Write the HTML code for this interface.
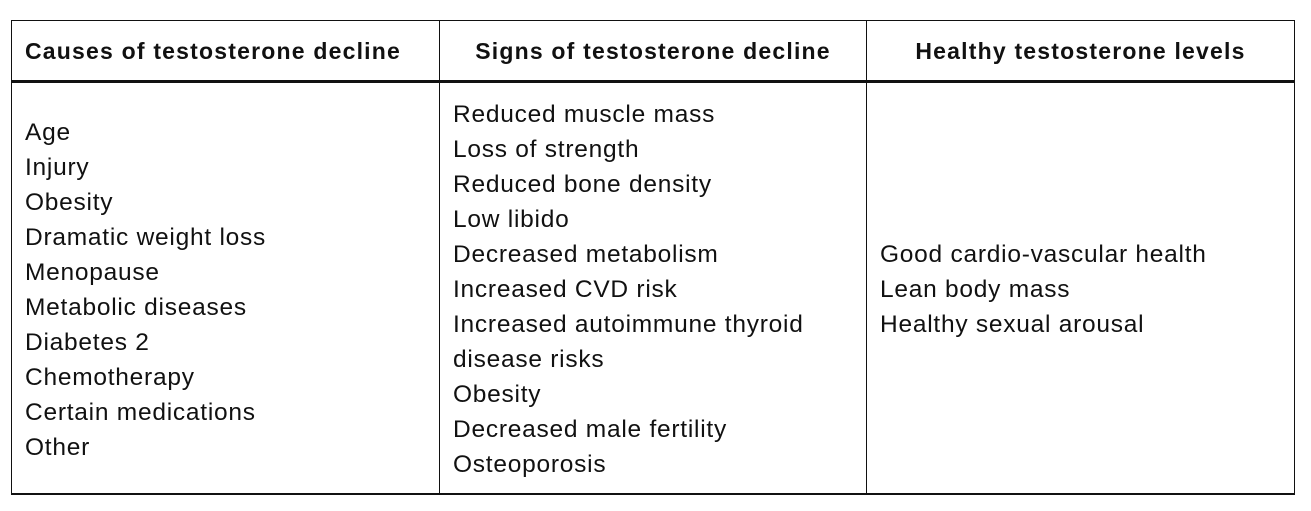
<!DOCTYPE html>
<html><head><meta charset="utf-8"><style>
html,body{margin:0;padding:0;background:#fff;width:1311px;height:511px;overflow:hidden}
body{position:relative;font-family:"Liberation Sans",sans-serif;color:#111}
.b{position:absolute;background:#111}
.h{position:absolute;top:37px;font-weight:bold;font-size:23px;line-height:28px;letter-spacing:1.2px;white-space:nowrap}
.c{position:absolute;font-size:24.5px;line-height:35px;letter-spacing:0.75px;white-space:nowrap}
</style></head><body>
<div class="b" style="left:11px;top:20px;width:1284px;height:1px"></div>
<div class="b" style="left:11px;top:493px;width:1284px;height:2px"></div>
<div class="b" style="left:11px;top:20px;width:1px;height:475px"></div>
<div class="b" style="left:1294px;top:20px;width:1px;height:475px"></div>
<div class="b" style="left:11px;top:80px;width:1284px;height:3px"></div>
<div class="b" style="left:439px;top:20px;width:1px;height:475px"></div>
<div class="b" style="left:866px;top:20px;width:1px;height:475px"></div>
<div class="h" style="left:25px">Causes of testosterone decline</div>
<div class="h" style="left:440px;width:426px;text-align:center">Signs of testosterone decline</div>
<div class="h" style="left:867px;width:427px;text-align:center">Healthy testosterone levels</div>
<div class="c" style="left:25px;top:115px">Age<br>Injury<br>Obesity<br>Dramatic weight loss<br>Menopause<br>Metabolic diseases<br>Diabetes 2<br>Chemotherapy<br>Certain medications<br>Other</div>
<div class="c" style="left:453px;top:97px">Reduced muscle mass<br>Loss of strength<br>Reduced bone density<br>Low libido<br>Decreased metabolism<br>Increased CVD risk<br>Increased autoimmune thyroid<br>disease risks<br>Obesity<br>Decreased male fertility<br>Osteoporosis</div>
<div class="c" style="left:880px;top:237px">Good cardio-vascular health<br>Lean body mass<br>Healthy sexual arousal</div>
</body></html>
